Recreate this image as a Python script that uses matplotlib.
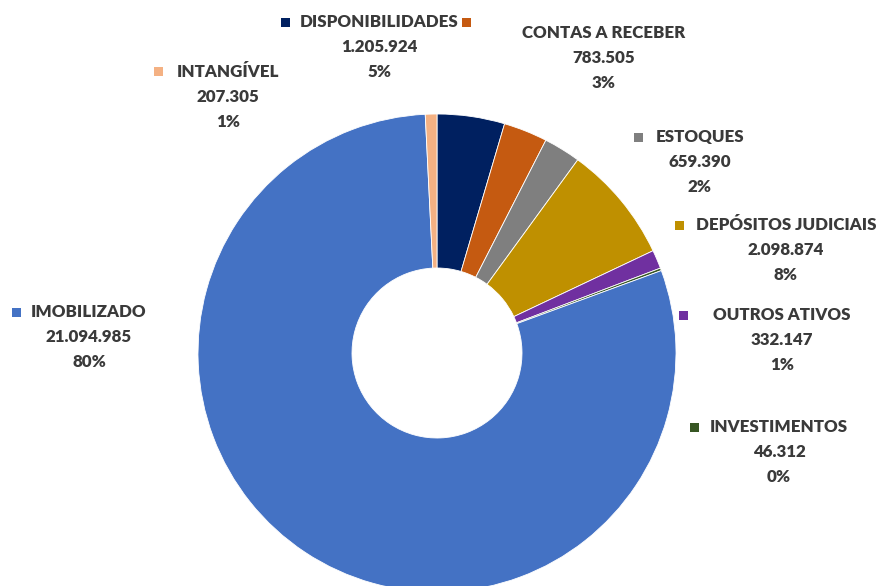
import matplotlib
matplotlib.use("Agg")
import matplotlib.pyplot as plt

# slices, clockwise from 12 o'clock
categories = ["DISPONIBILIDADES", "CONTAS A RECEBER", "ESTOQUES", "DEPÓSITOS JUDICIAIS",
              "OUTROS ATIVOS", "INVESTIMENTOS", "IMOBILIZADO", "INTANGÍVEL"]
values = [1205924, 783505, 659390, 2098874, 332147, 46312, 21094985, 207305]
colors = ["#002060", "#C55A11", "#7F7F7F", "#BF9000",
          "#7030A0", "#375623", "#4472C4", "#F4B183"]

# label layout in pixels (y from top): marker x, marker y, text centre x, first line y
label_pos = {
    "DISPONIBILIDADES": (285, 22, 379, 22),
    "CONTAS A RECEBER": (466, 22, 604, 33),
    "ESTOQUES": (638, 137, 700, 137),
    "DEPÓSITOS JUDICIAIS": (679, 225, 786, 225),
    "OUTROS ATIVOS": (683, 315, 782, 315),
    "INVESTIMENTOS": (694, 427, 779, 427),
    "IMOBILIZADO": (16, 312, 89, 312),
    "INTANGÍVEL": (158, 71, 228, 72),
}

W, H = 877, 586
fig = plt.figure(figsize=(W / 100, H / 100), dpi=100)
ax = fig.add_axes([0, 0, 1, 1])

cx, cy, r, hole = 437, 353, 239, 85
ax.pie(values, colors=colors, startangle=90, counterclock=False,
       center=(cx, H - cy), radius=r,
       wedgeprops=dict(width=r - hole, edgecolor="white", linewidth=0.6))
ax.set_xlim(0, W)
ax.set_ylim(0, H)
ax.set_axis_off()

total = sum(values)
txt_color = "#3A3A3A"
font = dict(family=["Lato", "DejaVu Sans"], fontsize=12.2, fontweight="heavy", color=txt_color)
for name, val, col in zip(categories, values, colors):
    mx, my, tx, ty = label_pos[name]
    ax.add_patch(plt.Rectangle((mx - 4.5, H - my - 4.5), 9, 9, color=col, lw=0))
    lines = [name, f"{val:,}".replace(",", "."), f"{round(val / total * 100)}%"]
    for i, line in enumerate(lines):
        ax.text(tx, H - (ty + 25 * i), line, ha="center", va="center", **font)

fig.savefig("out.png", dpi=100)
